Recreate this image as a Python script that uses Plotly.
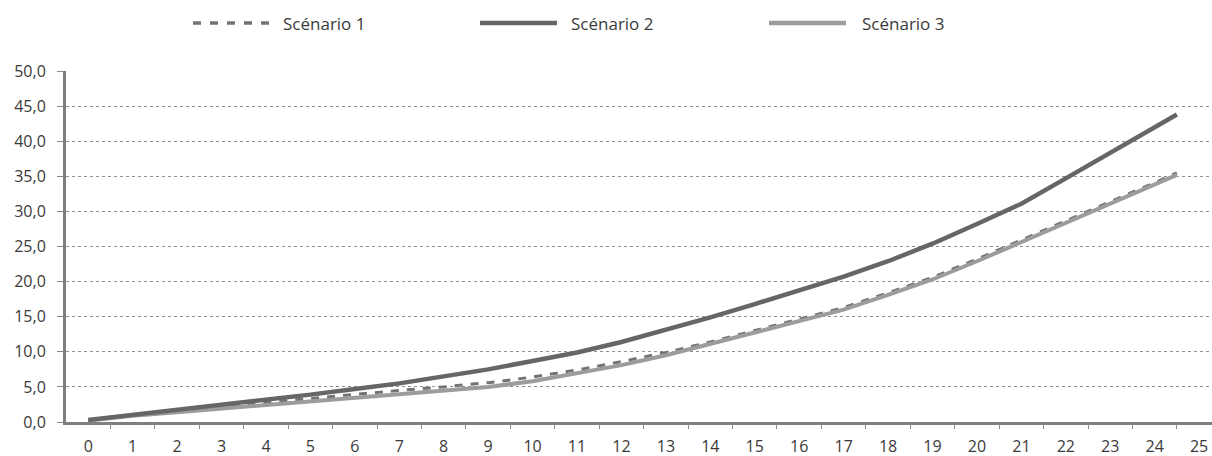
import plotly.graph_objects as go

years = [0, 1, 2, 3, 4, 5, 6, 7, 8, 9, 10, 11, 12, 13, 14, 15, 16, 17, 18, 19, 20, 21, 22, 23, 24, 24.5]
scenario1 = [0.3, 1.0, 1.6, 2.2, 2.8, 3.4, 4.0, 4.5, 5.0, 5.6, 6.4, 7.4, 8.6, 9.9, 11.4, 13.0, 14.6, 16.3, 18.4, 20.6, 23.2, 25.9, 28.6, 31.3, 34.1, 35.5]
scenario2 = [0.3, 1.0, 1.7, 2.4, 3.1, 3.9, 4.7, 5.5, 6.5, 7.5, 8.7, 9.9, 11.4, 13.1, 14.9, 16.8, 18.7, 20.7, 22.9, 25.4, 28.2, 31.1, 34.7, 38.3, 42.0, 43.8]
scenario3 = [0.2, 0.9, 1.4, 1.9, 2.4, 2.9, 3.4, 3.9, 4.4, 5.0, 5.8, 6.9, 8.1, 9.5, 11.1, 12.7, 14.4, 16.0, 18.1, 20.3, 22.9, 25.6, 28.3, 31.0, 33.8, 35.2]
tick_labels = [str(i) for i in range(26)]
series_names = ["Scénario 1", "Scénario 2", "Scénario 3"]

c1, c2, c3 = "#737373", "#666666", "#9c9c9c"
FONT = "Open Sans"
TXT = "#3a3a3a"

W, H = 1212, 456

fig = go.Figure()
fig.add_trace(go.Scatter(x=years, y=scenario1, mode="lines", name=series_names[0],
                         line=dict(color=c1, width=3, dash="8px,8px")))
fig.add_trace(go.Scatter(x=years, y=scenario3, mode="lines", name=series_names[2],
                         line=dict(color=c3, width=4)))
fig.add_trace(go.Scatter(x=years, y=scenario2, mode="lines", name=series_names[1],
                         line=dict(color=c2, width=4.5)))
# empty trace on a second x axis that carries the boundary tick marks
fig.add_trace(go.Scatter(x=[None], y=[None], xaxis="x2", showlegend=False))

# plot area in page pixels
L, R, T, B = 66, 1212, 71, 422
XR = [-0.5, 25.29]
fig.update_layout(
    width=W, height=H,
    margin=dict(l=L, r=W - R, t=T, b=H - B, autoexpand=False),
    paper_bgcolor="white", plot_bgcolor="white",
    separators=", ",
    showlegend=False,
    font=dict(family=FONT, size=16, color=TXT),
    xaxis=dict(range=XR, tickvals=list(range(26)), ticktext=tick_labels,
               ticks="", showgrid=False, zeroline=False, automargin=False,
               showline=True, linecolor="#7f7f7f", linewidth=3,
               ticklabelstandoff=8,
               tickfont=dict(family=FONT, size=16, color=TXT)),
    xaxis2=dict(range=XR, overlaying="x", side="bottom", anchor="y",
                tickvals=[i + 0.5 for i in range(25)], showticklabels=False,
                ticks="outside", ticklen=6, tickcolor="#8a8a8a", tickwidth=1,
                showgrid=False, zeroline=False, showline=False, automargin=False),
    yaxis=dict(range=[0, 50], dtick=5, tickformat=".1f", automargin=False,
               showgrid=True, gridcolor="#8f8f8f", griddash="dot", gridwidth=1,
               zeroline=False, showline=True, linecolor="#7f7f7f", linewidth=3,
               ticks="outside", ticklen=6, tickcolor="#8a8a8a", tickwidth=1,
               ticklabelstandoff=8,
               tickfont=dict(family=FONT, size=16, color=TXT)),
)

def px(x):
    return (x - L) / (R - L)
def py(y):
    return (B - y) / (B - T)

leg_y = 23
legend_items = [
    (193, 270, 283, series_names[0], c1, 3.5, "8px,9px"),
    (480, 557, 571, series_names[1], c2, 4.5, "solid"),
    (769, 846, 862, series_names[2], c3, 4.5, "solid"),
]
for x0, x1, xt, name, col, w, dash in legend_items:
    fig.add_shape(type="line", xref="paper", yref="paper",
                  x0=px(x0), x1=px(x1), y0=py(leg_y), y1=py(leg_y),
                  line=dict(color=col, width=w, dash=dash))
    fig.add_annotation(xref="paper", yref="paper", x=px(xt), y=py(leg_y),
                       text=name, showarrow=False, xanchor="left", yanchor="middle",
                       xshift=-2, font=dict(family=FONT, size=17, color=TXT))

fig.write_html("out.html", config={"displayModeBar": False},
               post_script="document.body.style.margin='0';document.body.style.overflow='hidden';")
